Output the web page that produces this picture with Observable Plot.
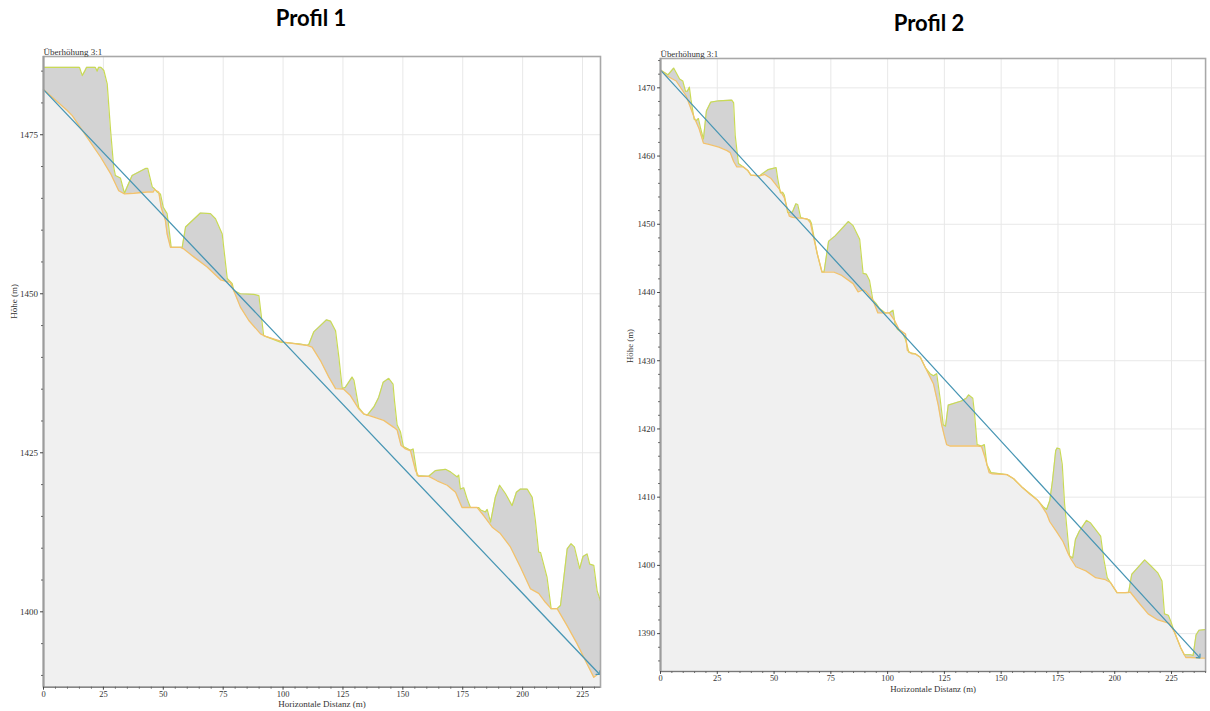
<!DOCTYPE html>
<html>
<head>
<meta charset="utf-8">
<script src="https://cdn.jsdelivr.net/npm/d3@7"></script>
<script src="https://cdn.jsdelivr.net/npm/@observablehq/plot@0.6"></script>
<style>
  html, body { margin: 0; padding: 0; background: #fff; overflow: hidden; width: 1210px; height: 711px; }
  #wrap { position: relative; width: 1210px; height: 711px; overflow: hidden; }
  .title { position: absolute; width: 200px; text-align: center; font: bold 22px Lato, "Open Sans", sans-serif; line-height: 22px; color: #000; }
  .panel { position: absolute; top: 40px; }
  .panel svg { display: block; }
</style>
</head>
<body>
<div id="wrap">
  <div class="title" style="left:211px; top:7px">Profil 1</div>
  <div class="title" style="left:829px; top:12px">Profil 2</div>
  <div class="panel" id="p1" style="left:0px"></div>
  <div class="panel" id="p2" style="left:620px"></div>
</div>
<script>
// Profil 1 — Oberfläche (obere Linie) und Gelände (untere Linie), [Distanz m, Höhe m]
const profil1Oberflaeche = [
  [0, 1485.6], [15, 1485.6], [16.2, 1484.3], [17.2, 1485.0], [18, 1485.6], [21.6, 1485.6], [22.4, 1485.0],
  [23, 1485.6], [24, 1485.6], [25.2, 1485.1], [26.6, 1483.0], [27.3, 1479.3], [28, 1475.7], [29.3, 1469.9],
  [30, 1468.6], [32.1, 1468.2], [33.8, 1465.8], [34.9, 1466.8], [37, 1468.6], [42.6, 1469.7], [43.5, 1469.7],
  [45.4, 1466.8], [46.3, 1466.5], [47.4, 1466.0], [48.8, 1465.7], [50, 1463.6], [51.6, 1462.6], [52.3, 1460.5],
  [53.3, 1457.3], [57.9, 1457.3], [59.3, 1460.5], [65.5, 1462.7], [69.7, 1462.6], [71.8, 1461.8], [74.6, 1459.4],
  [76.7, 1452.4], [78.8, 1451.6], [79.4, 1450.5], [82.2, 1450.0], [87.8, 1449.9], [89.9, 1449.7], [91.9, 1443.4],
  [92.7, 1443.3], [98.9, 1442.4], [107.3, 1442.1], [110, 1441.9], [110.7, 1442.0], [112.8, 1444.0], [115.6, 1445.0],
  [118.1, 1445.9], [119.8, 1445.7], [121.9, 1444.2], [123.3, 1440.0], [124.7, 1435.1], [126, 1435.3], [128.8, 1436.9],
  [129.6, 1436.4], [131.6, 1432.1], [133.7, 1431.1], [135.1, 1430.9], [137.9, 1432.2], [139.9, 1433.7], [141.8, 1436.1],
  [144.1, 1436.7], [145.9, 1435.8], [146.5, 1433.2], [147.6, 1429.4], [149, 1428.3], [150.2, 1426.0], [153.2, 1425.4],
  [154.3, 1425.6], [156, 1421.4], [160.8, 1421.3], [163.6, 1422.2], [167.8, 1422.4], [169.9, 1422.0], [172.7, 1421.2],
  [173.3, 1421.5], [174, 1419.3], [175.4, 1419.5], [176.8, 1417.8], [178.2, 1416.4], [181.7, 1416.4], [182.5, 1416.0],
  [184.5, 1415.7], [185.2, 1416.1], [186.6, 1414.1], [188.6, 1418.0], [190.4, 1419.9], [192.8, 1418.6], [195.6, 1416.7],
  [197.4, 1418.8], [199.1, 1419.3], [201.9, 1419.3], [204, 1418.0], [205.3, 1414.4], [206.7, 1409.4], [207.5, 1409.3],
  [210.2, 1405.4], [211.9, 1400.5], [214.4, 1400.5], [215.8, 1401.0], [217.2, 1405.4], [218.6, 1409.9], [220.2, 1410.7],
  [221.6, 1410.2], [223.8, 1406.8], [225.2, 1408.7], [226.9, 1409.1], [228, 1407.5], [229.7, 1407.3], [231.1, 1403.3],
  [232.5, 1401.7]
];
const profil1Gelaende = [
  [0, 1482.1], [9.9, 1478.8], [12, 1478.0], [18.2, 1474.6], [23.8, 1471.5], [28, 1468.9], [31.4, 1466.2],
  [33.8, 1465.7], [37.7, 1465.8], [43.3, 1466.0], [45.8, 1466.0], [46.3, 1466.4], [48.1, 1466.0], [49.1, 1463.6],
  [50.9, 1461.5], [51.6, 1459.4], [53, 1457.3], [57.2, 1457.3], [58.3, 1457.1], [62.7, 1455.8], [68.3, 1454.2],
  [73.9, 1452.2], [78, 1451.8], [79.4, 1450.5], [82.2, 1447.9], [85.7, 1445.8], [90.6, 1443.7], [92.7, 1443.3],
  [100.3, 1442.4], [107.3, 1442.0], [110, 1441.9], [112.1, 1441.6], [115.6, 1439.5], [119.1, 1436.9], [121.9, 1435.1],
  [125.3, 1435.0], [128.1, 1434.0], [131.6, 1431.9], [133.7, 1431.1], [137.9, 1430.6], [142, 1430.1], [146.2, 1429.0],
  [147.6, 1428.6], [149.2, 1426.2], [151.1, 1425.6], [153.2, 1425.3], [155.3, 1422.2], [156.6, 1421.3], [160.8, 1421.3],
  [164.3, 1420.6], [168.5, 1419.9], [172, 1418.8], [173.8, 1417.2], [174.7, 1416.4], [181, 1416.4], [183.8, 1415.1],
  [187.3, 1413.3], [190.7, 1412.3], [194.9, 1410.2], [199.1, 1407.0], [203.3, 1403.6], [206.7, 1402.9], [209.5, 1401.5],
  [211.9, 1400.5], [214.4, 1400.5], [218.6, 1397.8], [222.7, 1395.0], [226.9, 1391.8], [229.7, 1389.7], [231.8, 1390.3],
  [232.5, 1390.5]
];
const profil1Sichtlinie = [[0, 1482.1], [231.8, 1390.3]];

// Profil 2
const profil2Oberflaeche = [
  [0, 1472.6], [3.3, 1471.9], [5.8, 1472.9], [8.4, 1471.3], [9.8, 1471.0], [11, 1469.5], [11.8, 1469.5], [12.7, 1470.1],
  [13.4, 1468.3], [14.8, 1465.4], [15.8, 1465.2], [16.7, 1465.5], [17.7, 1464.0], [18.9, 1462.5], [20.2, 1466.6],
  [22.1, 1467.9], [25.7, 1468.1], [31.4, 1468.2], [32.2, 1467.8], [32.9, 1463.0], [34.3, 1458.9], [36.5, 1458.4],
  [38.4, 1457.9], [39.8, 1457.2], [43.7, 1457.1], [45.2, 1457.5], [47.3, 1458.0], [50.9, 1458.3], [51.6, 1456.7],
  [52.8, 1454.6], [53.8, 1454.7], [54.5, 1454.3], [56, 1451.7], [58.1, 1451.8], [59.6, 1453.0], [60.4, 1452.9],
  [61.7, 1451.0], [65.8, 1450.6], [66.4, 1450.2], [69, 1445.7], [71.1, 1443.0], [72, 1443.0], [74, 1447.5],
  [76.9, 1448.3], [82.7, 1450.4], [84.8, 1449.8], [87.7, 1447.8], [89.2, 1442.8], [90.6, 1442.7], [92, 1441.8],
  [93.5, 1438.9], [94.9, 1438.4], [96.3, 1437.7], [99, 1437.0], [100.7, 1437.0], [102.4, 1437.4], [103.3, 1435.3],
  [104.3, 1434.6], [106.5, 1434.1], [107.9, 1433.1], [109.4, 1431.2], [112.3, 1431.0], [114.4, 1430.5], [116.6, 1429.0],
  [118.7, 1428.1], [120.2, 1427.8], [121.6, 1428.1], [123.1, 1424.5], [124.5, 1420.6], [125.5, 1420.4], [126.7, 1423.5],
  [132.5, 1424.1], [134.6, 1424.5], [135.7, 1425.0], [137.5, 1424.5], [138.2, 1422.5], [139.4, 1417.7], [141.4, 1417.5],
  [142.6, 1417.7], [143.7, 1414.8], [145.5, 1413.6], [152.6, 1413.3], [155.5, 1412.7], [159.1, 1411.5], [164.2, 1410.1],
  [165.9, 1409.6], [168.5, 1408.6], [170, 1408.2], [171.4, 1409.5], [172.6, 1412.4], [174, 1416.8], [174.6, 1417.2],
  [175.8, 1417.1], [176.9, 1414.8], [177.9, 1409.1], [179.4, 1403.8], [180.1, 1401.4], [181.5, 1401.1], [182.7, 1403.8],
  [184.4, 1405.0], [187.6, 1406.6], [189.4, 1406.2], [193.8, 1404.3], [195.2, 1400.9], [196.7, 1398.2], [198.1, 1397.5],
  [201, 1396.0], [204.6, 1396.0], [206.1, 1396.0], [207.5, 1398.7], [213.2, 1400.8], [215.4, 1400.1], [219, 1398.9],
  [220.8, 1397.7], [221.9, 1392.9], [223.6, 1392.7], [224.8, 1391.7], [226.2, 1390.3], [229.1, 1387.9], [230.6, 1386.9],
  [233.5, 1386.9], [234.5, 1386.8], [235.8, 1389.8], [237.1, 1390.5], [240, 1390.6]
];
const profil2Gelaende = [
  [0, 1472.6], [2.5, 1471.8], [6.9, 1471.0], [11.3, 1468.8], [14.8, 1465.7], [17, 1464.0], [18.9, 1461.9], [21.3, 1461.7],
  [25.7, 1461.3], [29.3, 1460.8], [30.7, 1460.5], [32.2, 1459.2], [33.6, 1458.4], [36.5, 1458.4], [38.4, 1457.9],
  [39.8, 1457.2], [43.7, 1457.1], [45.9, 1457.3], [48.7, 1456.7], [52.4, 1455.1], [54.5, 1453.9], [56.7, 1451.2],
  [58.1, 1451.0], [64.6, 1450.8], [66.0, 1450.2], [69, 1445.7], [71.1, 1443.0], [76.2, 1443.0], [79.8, 1442.5],
  [84.8, 1441.3], [87, 1440.1], [89.2, 1440.4], [90.6, 1440.1], [93.5, 1438.9], [95.7, 1437.0], [100.7, 1437.0],
  [102.9, 1436.0], [105, 1434.6], [107.9, 1433.9], [108.7, 1431.5], [110.8, 1431.0], [112.3, 1431.0], [114.4, 1430.5],
  [116.6, 1429.0], [118.7, 1427.6], [120.2, 1426.6], [122.3, 1423.5], [123.8, 1420.6], [125.2, 1418.7], [126, 1417.7],
  [127.4, 1417.5], [139.7, 1417.5], [141.4, 1417.4], [142.9, 1415.8], [144.7, 1413.6], [146.1, 1413.4], [152.6, 1413.3],
  [155.5, 1412.7], [159.1, 1411.5], [162.8, 1410.4], [165.9, 1409.6], [167.1, 1409.1], [170, 1407.6], [171.4, 1406.4],
  [174.3, 1405.0], [177.2, 1403.5], [179.4, 1401.8], [180.8, 1400.9], [182.9, 1399.8], [187.3, 1399.2], [191.6, 1398.2],
  [195.9, 1397.9], [198.1, 1397.5], [201, 1396.0], [204.6, 1396.0], [206.8, 1396.1], [210.4, 1394.6], [214.7, 1392.9],
  [219, 1392.0], [224.1, 1391.5], [226.2, 1390.3], [229.1, 1387.9], [231.3, 1386.5], [233.5, 1386.5], [237.8, 1386.4],
  [240, 1386.4]
];
const profil2Sichtlinie = [[0, 1472.6], [237.1, 1386.6]];

// Achsenbeschriftungen
const distanzTicks = [0, 25, 50, 75, 100, 125, 150, 175, 200, 225];
const hoehe1Ticks = [1400, 1425, 1450, 1475];
const hoehe2Ticks = [1390, 1400, 1410, 1420, 1430, 1440, 1450, 1460, 1470];

function profil(cfg) {
  const [yLo, yHi] = cfg.yDomain;
  const asRows = a => a.map(([d, h]) => ({d, h}));
  const surface = asRows(cfg.surface);
  const ground = asRows(cfg.ground);
  const sight = asRows(cfg.sight);
  const xMinor = d3.range(cfg.xDomain[0], cfg.xDomain[1] + 0.001, 5).filter(v => !cfg.xTicks.includes(v));
  const yMinor = d3.range(Math.ceil(yLo / cfg.yStep) * cfg.yStep, yHi, cfg.yStep).filter(v => !cfg.yTicks.includes(v));
  const gridStyle = {stroke: "#e8e8e8", strokeOpacity: 1, strokeWidth: 1};
  return Plot.plot({
    width: cfg.width,
    height: cfg.height,
    marginLeft: cfg.ml,
    marginRight: cfg.mr,
    marginTop: cfg.mt,
    marginBottom: cfg.mb,
    x: {domain: cfg.xDomain},
    y: {domain: [yLo, yHi]},
    style: {fontFamily: "'Liberation Serif', 'DejaVu Serif', serif", fontSize: "9px", color: "#333", background: "transparent", overflow: "visible"},
    marks: [
      Plot.gridX(cfg.xTicks, gridStyle),
      Plot.gridY(cfg.yTicks, gridStyle),
      Plot.areaY(surface, {x: "d", y1: () => yLo, y2: "h", fill: "#d3d3d3", clip: true}),
      Plot.areaY(ground, {x: "d", y1: () => yLo, y2: "h", fill: "#f0f0f0", clip: true}),
      Plot.line(surface, {x: "d", y: "h", stroke: "#c9da55", strokeWidth: 1.2, clip: true}),
      Plot.line(ground, {x: "d", y: "h", stroke: "#f2c26c", strokeWidth: 1.3, clip: true}),
      Plot.line(sight, {x: "d", y: "h", stroke: "#4896b4", strokeWidth: 1.3, markerEnd: "arrow"}),
      Plot.frame({stroke: "#a8a8a8", strokeWidth: 1.6}),
      Plot.ruleX([cfg.xDomain[0]], {stroke: "#9c9c9c", strokeWidth: 2}),
      Plot.ruleY([yLo], {stroke: "#777", strokeWidth: 1}),
      Plot.axisY(cfg.yTicks, {tickSize: 3, tickPadding: 2.5, tickFormat: d => String(d), label: null, stroke: "#444", fill: "#333"}),
      Plot.axisY(yMinor, {tickSize: 2, tickFormat: () => "", fill: "none", label: null, stroke: "#666"}),
      Plot.axisX(cfg.xTicks, {tickSize: 3, tickPadding: 1, fontSize: 8.5, tickFormat: d => String(d), label: null, stroke: "#444", fill: "#333"}),
      Plot.axisX(xMinor, {tickSize: 2, tickFormat: () => "", fill: "none", label: null, stroke: "#666"}),
      Plot.text(["Überhöhung 3:1"], {frameAnchor: "top-left", dy: -2, textAnchor: "start", lineAnchor: "bottom", fontSize: 9, fill: "#333"}),
      Plot.text(["Höhe (m)"], {frameAnchor: "left", rotate: -90, dx: cfg.yLabelDx, dy: cfg.yLabelDy, fontSize: 9, fill: "#333"}),
      Plot.text(["Horizontale Distanz (m)"], {frameAnchor: "bottom", dy: cfg.xLabelDy, fontSize: 9, fill: "#333"})
    ]
  });
}

document.getElementById("p1").append(profil({
  surface: profil1Oberflaeche, ground: profil1Gelaende, sight: profil1Sichtlinie,
  width: 620, height: 671, ml: 43, mr: 20, mt: 16, mb: 24.3,
  xDomain: [0, 232.5], yDomain: [1388.15, 1487.3],
  xTicks: distanzTicks, yTicks: hoehe1Ticks, yStep: 5,
  yLabelDx: -29, yLabelDy: -53, xLabelDy: 19.5
}));

document.getElementById("p2").append(profil({
  surface: profil2Oberflaeche, ground: profil2Gelaende, sight: profil2Sichtlinie,
  width: 600, height: 671, ml: 40.7, mr: 5, mt: 18.3, mb: 29.3,
  xDomain: [0, 240], yDomain: [1384.45, 1474.3],
  xTicks: distanzTicks, yTicks: hoehe2Ticks, yStep: 2,
  yLabelDx: -30.7, yLabelDy: -2, xLabelDy: 21.3
}));
</script>
</body>
</html>
